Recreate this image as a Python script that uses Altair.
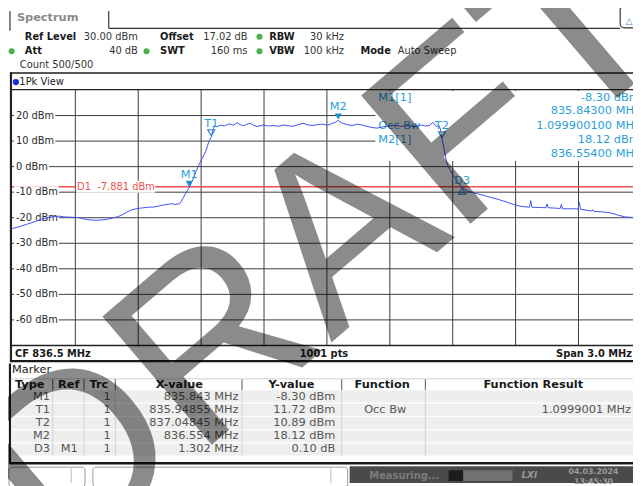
import altair as alt
import pandas as pd

OFF = 8
W, H = 641 - OFF, 486 - OFF
FONT = "DejaVu Sans"

# ---------------- data ----------------
freq_mhz = [835.000, 835.020, 835.045, 835.067, 835.090, 835.115, 835.145, 835.175, 835.200, 835.224,
            835.250, 835.280, 835.302, 835.320, 835.340, 835.365, 835.397, 835.425, 835.445, 835.459,
            835.480, 835.506, 835.530, 835.550, 835.569, 835.590, 835.615, 835.648, 835.675, 835.700,
            835.720, 835.745, 835.760, 835.775, 835.797, 835.805, 835.812, 835.828, 835.843, 835.860,
            835.875, 835.890, 835.905, 835.922, 835.937, 835.9486, 835.958, 835.965, 835.975, 835.993,
            836.010, 836.025, 836.040, 836.055, 836.071, 836.087, 836.103, 836.118, 836.134, 836.150,
            836.166, 836.181, 836.197, 836.220, 836.244, 836.268, 836.291, 836.315, 836.338, 836.362,
            836.386, 836.410, 836.433, 836.457, 836.480, 836.504, 836.527, 836.542, 836.554, 836.563,
            836.574, 836.598, 836.621, 836.645, 836.668, 836.690, 836.715, 836.740, 836.762, 836.790,
            836.825, 836.855, 836.888, 836.920, 836.951, 836.970, 836.990, 837.005, 837.021, 837.033,
            837.040, 837.0485, 837.060, 837.070, 837.085, 837.100, 837.120, 837.145, 837.170, 837.202,
            837.240, 837.280, 837.320, 837.359, 837.390, 837.422, 837.466, 837.472, 837.478, 837.520,
            837.545, 837.550, 837.556, 837.600, 837.613, 837.618, 837.624, 837.680, 837.698, 837.704,
            837.710, 837.750, 837.762, 837.767, 837.773, 837.810, 837.846, 837.870, 837.893, 837.924,
            837.960, 838.000]
level_dbm = [-24.2, -23.8, -23.2, -22.6, -22.0, -21.3, -20.4, -19.9, -19.6, -19.4,
             -19.7, -19.8, -19.9, -20.0, -20.5, -20.8, -21.0, -20.9, -20.7, -20.5,
             -20.1, -19.5, -18.6, -17.6, -16.9, -16.5, -16.2, -15.9, -15.8, -15.4,
             -15.0, -14.7, -14.5, -14.8, -14.5, -13.6, -12.6, -10.2, -8.3, -5.2,
             -2.0, 0.8, 3.2, 6.0, 9.8, 11.7, 14.8, 16.0, 15.6, 16.3,
             15.9, 16.5, 16.7, 16.2, 17.2, 16.4, 16.0, 16.6, 17.0, 16.2,
             15.7, 16.0, 16.3, 15.9, 16.1, 15.8, 16.3, 16.0, 15.8, 16.4,
             17.0, 16.3, 16.1, 16.5, 16.6, 16.2, 17.0, 17.4, 18.1, 17.5,
             17.0, 16.4, 16.1, 16.6, 16.3, 15.8, 15.3, 15.1, 15.5, 15.9,
             16.1, 15.8, 16.0, 15.7, 16.3, 15.9, 16.1, 17.4, 15.7, 16.2,
             15.0, 10.9, 6.5, 2.0, -1.0, -3.2, -5.6, -8.2, -9.6, -10.3,
             -11.1, -12.0, -12.9, -13.9, -14.8, -15.5, -15.9, -13.3, -15.9, -16.0,
             -16.1, -14.6, -16.1, -16.3, -16.4, -14.8, -16.5, -16.5, -16.6, -14.0,
             -16.7, -17.2, -17.4, -16.8, -17.5, -17.7, -18.0, -18.5, -19.1, -19.7,
             -19.9, -20.0]

grid_freq = [835.3, 835.6, 835.9, 836.2, 836.5, 836.8, 837.1, 837.4, 837.7]
grid_level = [20, 10, 0, -10, -20, -30, -40, -50, -60]
grid_label = ["20 dBm", "10 dBm", "0 dBm", "-10 dBm", "-20 dBm", "-30 dBm", "-40 dBm", "-50 dBm", "-60 dBm"]
display_line_dbm = -7.881

mk_name = ["M1", "T1", "T2", "M2", "D3"]
mk_freq = [835.843, 835.94855, 837.04845, 836.554, 837.145]
mk_level = [-8.30, 11.72, 10.89, 18.12, -8.20]
mk_kind = ["filled", "hollow", "hollow", "filled", "delta"]

info_label = ["M1[1]", "", "Occ Bw", "M2[1]", ""]
info_value = ["-8.30 dBm", "835.84300 MHz", "1.099900100 MHz", "18.12 dBm", "836.55400 MHz"]

tbl_type = ["M1", "T1", "T2", "M2", "D3"]
tbl_ref = ["", "", "", "", "M1"]
tbl_trc = ["1", "1", "1", "1", "1"]
tbl_x = ["835.843 MHz", "835.94855 MHz", "837.04845 MHz", "836.554 MHz", "1.302 MHz"]
tbl_y = ["-8.30 dBm", "11.72 dBm", "10.89 dBm", "18.12 dBm", "0.10 dB"]
tbl_func = ["", "Occ Bw", "", "", ""]
tbl_result = ["", "1.0999001 MHz", "", "", ""]
tbl_header = ["Type", "Ref", "Trc", "X-value", "Y-value", "Function", "Function Result"]

# ---------------- scales ----------------
PX = alt.Scale(domain=[OFF, OFF + W], range=[0, W])
PY = alt.Scale(domain=[OFF, OFF + H], range=[0, H])
XF = alt.Scale(domain=[835.0, 838.0], range=[12.5 - OFF, 649.5 - OFF], zero=False, nice=False)
YL = alt.Scale(domain=[-70, 30], range=[346.7 - OFF, 88 - OFF], zero=False, nice=False)

CW = {"-": 3.61, " ": 3.18, "d": 6.35, "B": 6.86, "m": 9.74, ".": 3.18}


def tw(s, size=10):
    return sum(CW.get(c, 6.36) for c in s) * size / 10


one = pd.DataFrame({"k": [0]})


def ui_text(rows, align="left", weight="normal", size=10, color="#222", font=FONT, **kw):
    df = pd.DataFrame(rows, columns=["s", "px", "py"])
    return alt.Chart(df).mark_text(align=align, baseline="middle", font=font, fontSize=size,
                                   fontWeight=weight, color=color, **kw).encode(
        x=alt.X("px:Q", scale=PX, axis=None), y=alt.Y("py:Q", scale=PY, axis=None), text="s:N")


def ui_rect(rows, fill="white", stroke=None, sw=1, **kw):
    df = pd.DataFrame(rows, columns=["x1", "y1", "x2", "y2"])
    props = dict(fill=fill, **kw)
    if stroke:
        props.update(stroke=stroke, strokeWidth=sw)
    return alt.Chart(df).mark_rect(**props).encode(
        x=alt.X("x1:Q", scale=PX, axis=None), x2="x2:Q",
        y=alt.Y("y1:Q", scale=PY, axis=None), y2="y2:Q")


def ui_rule(rows, color="#222", sw=1):
    df = pd.DataFrame(rows, columns=["x1", "y1", "x2", "y2"])
    return alt.Chart(df).mark_rule(color=color, strokeWidth=sw).encode(
        x=alt.X("x1:Q", scale=PX, axis=None), x2="x2:Q",
        y=alt.Y("y1:Q", scale=PY, axis=None), y2="y2:Q")


layers = []
layers.append(ui_rect([(OFF, OFF, 641, 486)], fill="white"))

# ---------------- plot area ----------------
GRID = "#3c3c3c"
layers.append(alt.Chart(pd.DataFrame({"f": grid_freq})).mark_rule(color=GRID, strokeWidth=1).encode(
    x=alt.X("f:Q", scale=XF, axis=None), y=alt.value(88 - OFF), y2=alt.value(346.7 - OFF)))
gh = pd.DataFrame({"lv": grid_level, "lab": grid_label})
gh["x1"] = 14.0
gh["x2"] = [16 + tw(s) + 1 for s in grid_label]
gh["xt"] = 16.0
layers.append(alt.Chart(gh).mark_rule(color=GRID, strokeWidth=1).encode(
    y=alt.Y("lv:Q", scale=YL, axis=None), x=alt.value(12 - OFF), x2=alt.value(W)))

RED = "#f05050"
dl = pd.DataFrame({"lv": [display_line_dbm], "lab": ["D1\u00a0\u00a0%.3f dBm" % display_line_dbm]})
layers.append(alt.Chart(dl).mark_rule(color=RED, strokeWidth=1.5).encode(
    y=alt.Y("lv:Q", scale=YL, axis=None), x=alt.value(12 - OFF), x2=alt.value(W)))

# white masks: marker info box, y labels, display line label
layers.append(ui_rect([(380, 89, 641, 160)], fill="white"))
layers.append(alt.Chart(gh).mark_rule(color="white", strokeWidth=12, strokeCap="butt").encode(
    y=alt.Y("lv:Q", scale=YL, axis=None), x=alt.X("x1:Q", scale=PX, axis=None), x2="x2:Q"))
layers.append(alt.Chart(dl).mark_rule(color="white", strokeWidth=12, strokeCap="butt").encode(
    y=alt.Y("lv:Q", scale=YL, axis=None), x=alt.value(77 - OFF), x2=alt.value(157 - OFF)))

layers.append(alt.Chart(gh).mark_text(align="left", baseline="middle", font=FONT, fontSize=10,
                                      color="#2a2a2a").encode(
    y=alt.Y("lv:Q", scale=YL, axis=None), x=alt.X("xt:Q", scale=PX, axis=None), text="lab:N"))
layers.append(alt.Chart(dl).mark_text(align="left", baseline="middle", font=FONT, fontSize=10,
                                      color=RED).encode(
    y=alt.Y("lv:Q", scale=YL, axis=None), x=alt.value(78 - OFF), text="lab:N"))

# marker info box text
BLUE = "#2a9fd8"
info = pd.DataFrame({"lab": info_label, "val": info_value, "py": [96, 109.5, 124, 138.5, 152.5]})
layers.append(alt.Chart(info).mark_text(align="left", baseline="middle", font=FONT, fontSize=11.5,
                                        color=BLUE).encode(
    x=alt.value(383 - OFF), y=alt.Y("py:Q", scale=PY, axis=None), text="lab:N"))
layers.append(alt.Chart(info).mark_text(align="right", baseline="middle", font=FONT, fontSize=11.5,
                                        color=BLUE).encode(
    x=alt.value(648 - OFF), y=alt.Y("py:Q", scale=PY, axis=None), text="val:N"))

# trace
trace = pd.DataFrame({"f": freq_mhz, "lv": level_dbm})
layers.append(alt.Chart(trace).mark_line(color="#4050f0", strokeWidth=1).encode(
    x=alt.X("f:Q", scale=XF, axis=None), y=alt.Y("lv:Q", scale=YL, axis=None)))

# markers
mk = pd.DataFrame({"name": mk_name, "f": mk_freq, "lv": mk_level, "kind": mk_kind})
base = alt.Chart(mk).encode(x=alt.X("f:Q", scale=XF, axis=None), y=alt.Y("lv:Q", scale=YL, axis=None))
layers.append(base.transform_filter("datum.kind == 'filled'").mark_point(
    shape="triangle-down", filled=True, size=50, yOffset=-4, color="#1f8fd0", opacity=1))
layers.append(base.transform_filter("datum.kind == 'hollow'").mark_point(
    shape="triangle-down", filled=False, size=50, yOffset=-4, color="#2b87c0", strokeWidth=1.2, opacity=1))
layers.append(base.transform_filter("datum.kind == 'delta'").mark_point(
    shape="triangle-up", filled=False, size=50, yOffset=3.5, color="#2b87c0", strokeWidth=1.2, opacity=1))
layers.append(base.transform_filter("datum.kind != 'delta'").mark_text(
    font=FONT, fontSize=11.5, color=BLUE, yOffset=-13, baseline="middle").encode(text="name:N"))
layers.append(base.transform_filter("datum.kind == 'delta'").mark_text(
    font=FONT, fontSize=11.5, color=BLUE, yOffset=-7, baseline="middle").encode(text="name:N"))

# ---------------- frame / header ----------------
layers.append(ui_rule([(10, 8, 10, 28), (110, 8, 110, 25.5), (110, 25.5, 628, 25.5)], color="#333", sw=1.2))
layers.append(ui_rect([(628, 3, 646, 25)], fill="white", stroke="#333", sw=1.2, cornerRadius=4))
layers.append(ui_text([("\u25b3", 637, 18.5)], align="center", size=9, color="#3a7fc0"))
layers.append(ui_text([("Spectrum", 17, 15)], size=11.5, weight="bold", color="#8a8a8a"))

layers.append(ui_text([("Ref Level", 25, 34), ("Offset", 162, 34), ("RBW", 272.5, 34),
                       ("Att", 25, 48.7), ("SWT", 162, 48.7), ("VBW", 272.5, 48.7), ("Mode", 365, 48.7)],
                      weight="bold", color="#1a1a1a"))
layers.append(ui_text([("30.00 dBm", 139.5, 34), ("17.02 dB", 250.7, 34), ("30 kHz", 348.3, 34),
                       ("40 dB", 139.5, 48.7), ("160 ms", 250.5, 48.7), ("100 kHz", 348.3, 48.7)],
                      align="right", color="#333"))
layers.append(ui_text([("Auto Sweep", 402.7, 48.7), ("Count 500/500", 20, 62.5)], color="#333"))
dots = pd.DataFrame({"px": [262.7, 11.7, 148.3, 262.7], "py": [34, 48.7, 48.7, 48.7]})
layers.append(alt.Chart(dots).mark_point(shape="circle", filled=True, size=38, color="#4cb050", opacity=1).encode(
    x=alt.X("px:Q", scale=PX, axis=None), y=alt.Y("py:Q", scale=PY, axis=None)))

layers.append(ui_rule([(10, 70.8, 641, 70.8)], color="#555", sw=2.2))
layers.append(ui_rule([(11, 87.6, 641, 87.6), (11, 346.7, 641, 346.7)], color="#222", sw=1.4))
layers.append(ui_rule([(11, 70, 11, 363)], color="#222", sw=2.2))
layers.append(alt.Chart(one).mark_point(shape="circle", filled=True, size=40, color="#1c2bd8", opacity=1).encode(
    x=alt.value(16 - OFF), y=alt.value(80 - OFF)))
layers.append(ui_text([("1Pk View", 19.5, 80)], color="#222"))

layers.append(ui_text([("CF 836.5 MHz", 15, 355)], weight="bold", color="#1a1a1a"))
layers.append(ui_text([("1001 pts", 328, 355)], align="center", weight="bold", color="#1a1a1a"))
layers.append(ui_text([("Span 3.0 MHz", 640, 355)], align="right", weight="bold", color="#1a1a1a"))
layers.append(ui_rule([(10, 362.5, 641, 362.5)], color="#1a1a1a", sw=2.2))

# ---------------- marker table ----------------
layers.append(ui_text([("Marker", 12, 371.5)], size=11.5, color="#1a1a1a"))
ROW0, ROWH = 398.5, 13.4
row_c = [ROW0 + i * ROWH for i in range(len(tbl_type))]
layers.append(ui_rect([(12, c - ROWH / 2 + 0.6, 641, c + ROWH / 2 - 0.6) for c in row_c], fill="#eeeeee"))
layers.append(ui_rule([(12, 380.5, 641, 380.5)], color="#cfcfcf", sw=1))
sep_x = [53.3, 85, 116.7, 245, 346, 430.7]
layers.append(ui_rule([(x, 381, x, ROW0 - ROWH / 2) for x in sep_x], color="#555", sw=1))
layers.append(ui_rule([(x, ROW0 - ROWH / 2, x, row_c[-1] + ROWH / 2) for x in sep_x], color="#d2d2d2", sw=1))

TS = 11.5
hdr_x = [30, 69.5, 100, 181.5, 295, 387, 540]
layers.append(ui_text(list(zip(tbl_header, hdr_x, [386.5] * 7)), align="center", weight="bold",
                      size=TS, color="#1a1a1a"))
TC = "#555"
layers.append(ui_text(list(zip(tbl_type, [50.5] * 5, row_c)), align="right", size=TS, color=TC))
layers.append(ui_text(list(zip(tbl_ref, [70] * 5, row_c)), align="center", size=TS, color=TC))
layers.append(ui_text(list(zip(tbl_trc, [112] * 5, row_c)), align="right", size=TS, color=TC))
layers.append(ui_text(list(zip(tbl_x, [241.5] * 5, row_c)), align="right", size=TS, color=TC))
layers.append(ui_text(list(zip(tbl_y, [339.5] * 5, row_c)), align="right", size=TS, color=TC))
layers.append(ui_text(list(zip(tbl_func, [390] * 5, row_c)), align="center", size=TS, color=TC))
layers.append(ui_text(list(zip(tbl_result, [639] * 5, row_c)), align="right", size=TS, color=TC))
layers.append(ui_rule([(10, 365, 10, 467)], color="#1a1a1a", sw=2.2))
layers.append(ui_rule([(10, 466, 641, 466)], color="#1a1a1a", sw=2.5))

# ---------------- status bar ----------------
layers.append(ui_rect([(9, 470, 86, 490), (94, 470, 352, 490)], fill="white", stroke="#9a9a9a",
                      sw=1, cornerRadius=3))
layers.append(ui_rule([(72, 471, 72, 486), (335, 471, 335, 486)], color="#bbbbbb", sw=1))
layers.append(ui_rect([(354, 469, 641, 486)], fill="#4a4a4a"))
layers.append(ui_text([("Measuring...", 374, 479)], weight="bold", size=10, color="#7c7c7c"))
layers.append(ui_rect([(454, 473, 519, 484)], fill="#727272"))
layers.append(ui_rect([(454, 473, 469, 484)], fill="#1c1c1c"))
layers.append(ui_text([("LXI", 528, 478)], weight="bold", size=9, color="#9a9a9a", fontStyle="italic"))
layers.append(ui_text([("04.03.2024", 601, 475), ("13:45:30", 601, 485)], align="center",
                      weight="bold", size=8, color="#9d9d9d"))

# ---------------- watermark ----------------
layers.append(alt.Chart(one).mark_text(text="DRAFT", angle=319.5, fontSize=248, font="Liberation Sans",
                                       align="center", baseline="middle", color="black", opacity=0.45).encode(
    x=alt.value(329 - OFF), y=alt.value(252 - OFF)))

chart = alt.layer(*layers).resolve_scale(x="independent", y="independent").properties(
    width=W, height=H, padding=0, autosize=alt.AutoSizeParams(type="none"),
    background="white").configure_view(stroke=None)

chart.save("out.html", embed_options={"renderer": "svg", "actions": False})
